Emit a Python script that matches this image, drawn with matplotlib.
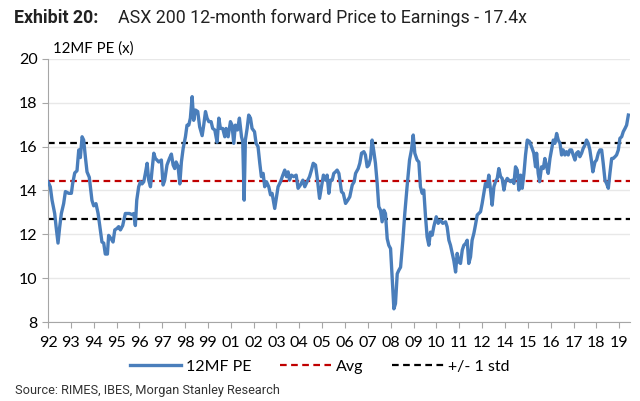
import numpy as np
import matplotlib
matplotlib.use('Agg')
import matplotlib.pyplot as plt
import matplotlib.transforms as mtransforms
from matplotlib.lines import Line2D

# months since Jan-92 and 12MF PE values
months = [
    0.0, 1.3, 2.3, 3.8, 4.6, 5.7, 6.6, 7.6, 8.9, 9.9, 11.8, 13.3, 14.0, 15.2, 16.5, 17.5,
    18.4, 19.4, 20.3, 21.3, 22.2, 23.5, 25.0, 26.0, 27.3, 28.5, 29.8, 30.7, 31.7, 32.6,
    33.8, 34.5, 35.9, 37.0, 38.0, 39.3, 40.2, 41.2, 42.5, 44.0, 45.0, 46.3, 47.8, 48.8,
    49.7, 50.5, 51.6, 52.6, 53.5, 54.5, 55.4, 56.4, 57.3, 58.3, 59.2, 60.2, 61.1, 62.0,
    63.0, 64.5, 65.5, 66.4, 67.7, 69.1, 70.2, 71.2, 72.1, 72.9, 74.0, 75.0, 75.9, 76.9,
    78.2, 79.1, 80.1, 81.0, 82.0, 82.9, 83.9, 85.2, 86.3, 87.7, 88.6, 89.6, 90.5, 91.5,
    92.8, 93.7, 94.9, 96.2, 97.2,
    98.1, 99.4, 100.6, 101.3, 102.5, 103.8, 104.7, 105.7, 106.6, 107.8, 108.9, 110.1,
    110.8, 111.6, 112.3, 113.3, 114.2, 115.2, 116.1, 117.5, 118.4, 119.5, 120.5, 121.4,
    122.4, 123.3, 124.3, 125.6, 126.6, 127.5, 129.0, 130.0, 130.9, 132.3, 133.6, 134.7,
    135.7, 136.6, 137.4, 138.5, 139.8, 141.2, 142.3, 143.6, 145.0, 146.1, 147.4, 148.8,
    149.9, 150.9, 152.2, 153.1, 154.5, 155.6, 156.7, 157.9, 158.8, 159.8, 160.7, 161.7,
    162.6, 163.6, 164.5, 165.5, 167.0, 168.0, 169.3, 170.6, 171.7, 173.1, 174.2, 175.0,
    176.5, 177.4, 178.4, 179.7, 180.6, 181.6, 182.5, 183.5, 184.4, 185.4, 186.3, 187.3,
    188.2, 189.2, 190.1, 191.1, 192.0, 193.0, 193.9, 194.9, 195.8, 196.8, 197.7, 198.7,
    199.6, 200.6,
    201.9, 203.0, 204.3, 205.7, 206.8, 207.8, 208.7, 210.0, 211.0, 211.9, 212.9, 213.8,
    214.8, 215.7, 216.7, 217.6, 218.6, 219.5, 220.9, 222.0, 223.3, 224.6, 226.2, 227.1,
    228.1, 229.0, 230.0, 230.9, 231.9, 232.8, 233.8, 234.7, 235.7, 236.6, 237.6, 238.5,
    239.4, 240.4, 241.3, 242.3, 243.2, 244.2, 245.1, 246.1, 247.0, 248.0, 248.9, 249.9,
    250.8, 251.8, 252.7, 253.7, 254.6, 255.6, 256.5, 257.5, 258.4, 259.4, 260.3, 261.3,
    262.2, 263.2, 264.1, 265.1, 266.0, 267.0, 267.9, 268.9, 269.8, 270.8, 271.7, 272.7,
    274.0, 275.1, 276.4, 277.4, 278.0, 278.9, 279.7, 280.8, 281.8, 282.7, 283.7, 284.6,
    285.6, 286.5, 287.5, 288.4, 289.4, 290.3, 291.3, 292.2, 293.1, 294.1, 295.0, 296.0,
    296.9, 297.9, 298.8, 299.8, 300.7, 301.7, 302.6, 303.6, 304.5, 305.5, 306.4, 307.4,
    308.3, 309.3, 310.0, 311.2, 312.1, 313.1, 314.0, 315.0, 315.9, 316.9, 317.8, 318.8,
    319.7, 320.7, 321.6, 322.6, 323.5, 324.5, 325.4, 326.4, 327.3, 328.3, 329.2, 330.2,
]
pe = [
    14.4, 14.17, 13.56, 12.95, 12.35, 11.6, 12.3, 12.95, 13.4, 13.95, 13.87, 13.87, 14.3, 14.8, 14.9, 15.85,
    15.5, 16.45, 16.3, 15.5, 14.85, 14.6, 13.55, 13.3, 13.4, 12.95, 12.2, 11.65, 11.6, 11.1,
    11.1, 11.95, 11.8, 11.65, 12.2, 12.27, 12.35, 12.2, 12.4, 12.95, 12.95, 12.95, 12.9, 12.95,
    12.4, 13.56, 14.17, 14.4, 14.3, 14.4, 14.78, 15.24, 14.47, 14.17, 14.93, 15.7, 15.46, 15.39,
    15.3, 15.39, 14.25, 14.47, 15.16, 15.46, 15.66, 15.16, 15.0, 15.3, 15.1, 14.3, 15.3, 15.92,
    16.45, 16.98, 16.98, 17.3, 18.28, 17.2, 17.67, 17.6, 16.9, 16.5, 16.98, 17.6, 17.3, 17.14,
    17.14, 16.83, 16.76, 16.2, 17.3,
    16.83, 16.83, 16.45, 16.83, 16.45, 17.14, 16.98, 16.15, 16.98, 16.76, 17.3, 16.45,
    16.23, 13.56, 16.3, 16.83, 17.44, 17.3, 16.83, 16.68, 16.15, 16.0, 15.24, 14.63,
    14.78, 14.17, 14.4, 14.17, 13.8, 13.87, 13.18, 13.71, 14.17, 14.4, 14.7, 14.93,
    14.63, 14.85, 14.47, 14.7, 14.63, 14.7, 14.1, 14.25, 14.47, 14.17, 14.4, 14.63,
    14.93, 15.24, 15.16, 14.63, 13.64, 14.17, 14.7, 14.47, 14.7, 13.87, 14.47, 14.47,
    14.78, 14.85, 14.93, 14.78, 13.94, 13.87, 13.41, 13.56, 13.71, 14.25, 14.4, 14.78,
    15.0, 15.24, 15.7, 15.77, 15.62, 15.08, 15.16, 15.46, 16.3, 15.77, 15.24, 14.32,
    13.26, 13.1, 12.57, 13.1, 12.95, 11.8, 11.5, 11.35, 10.06, 8.6, 8.84, 10.2,
    10.36, 10.5,
    11.73, 12.95, 14.17, 15.39, 15.85, 16.53, 15.7, 15.39, 15.3, 14.17, 13.87, 14.02,
    12.8, 11.89, 11.5, 12.1, 11.96, 12.35, 12.8, 12.5, 12.65, 12.5, 12.57, 12.34,
    11.73, 11.5, 11.13, 10.8, 10.28, 11.13, 10.74, 10.67, 11.28, 11.5, 11.58, 11.73,
    10.67, 10.97, 11.73, 12.04, 12.42, 12.88, 12.95, 13.03, 13.4, 13.87, 14.32, 14.17,
    14.7, 14.02, 13.33, 14.17, 14.4, 14.55, 15.0, 14.63, 14.55, 14.02, 14.4, 14.55,
    14.47, 14.4, 14.47, 14.32, 15.08, 14.93, 14.02, 14.7, 14.1, 14.78, 15.62, 16.3,
    16.23, 16.0, 15.7, 15.08, 15.7, 14.78, 14.4, 15.08, 15.0, 15.46, 15.08, 14.78,
    15.46, 15.85, 16.3, 16.15, 16.6, 16.3, 16.15, 15.62, 15.85, 15.62, 15.77, 15.62,
    15.85, 15.85, 15.62, 15.39, 15.7, 15.77, 15.54, 15.7, 15.92, 16.07, 16.3, 16.15,
    15.85, 15.3, 14.85, 15.3, 15.39, 15.7, 15.85, 15.85, 15.24, 14.47, 14.32, 14.1,
    14.78, 15.46, 15.46, 15.54, 15.62, 15.85, 16.38, 16.45, 16.68, 16.83, 16.98, 17.44,
]

avg = 14.45
std = 1.73

year_labels = ['92', '93', '94', '95', '96', '97', '98', '99', '01', '02', '03', '04', '05',
               '06', '07', '08', '09', '10', '11', '12', '14', '15', '16', '17', '18', '19']

plt.rcParams['font.family'] = ['Lato', 'DejaVu Sans']

fig = plt.figure(figsize=(6.4, 4.01), dpi=100)
ax = fig.add_axes([0.075, 0.197, 0.909, 0.656])

ax.plot(months, pe, color='#4a7ebb', lw=2.4, solid_joinstyle='round', zorder=3)
ax.axhline(avg, color='#c00000', lw=1.6, ls=(0, (3, 2)), zorder=2)
ax.axhline(avg + std, color='black', lw=1.6, ls=(0, (3, 2)), zorder=2)
ax.axhline(avg - std, color='black', lw=1.6, ls=(0, (3, 2)), zorder=2)

ax.set_xlim(0, 331)
ax.set_ylim(8, 20)
ax.set_yticks(np.arange(8, 21, 2))
ax.yaxis.grid(True, color='#e8e8e8', lw=1)
ax.set_axisbelow(True)

ticks = np.arange(len(year_labels)) * 13
ax.set_xticks(ticks)
ax.set_xticklabels(year_labels)
offset = mtransforms.ScaledTranslation(3 / 72, 0, fig.dpi_scale_trans)
for lbl in ax.get_xticklabels():
    lbl.set_transform(lbl.get_transform() + offset)

for s in ['top', 'right']:
    ax.spines[s].set_visible(False)
for s in ['left', 'bottom']:
    ax.spines[s].set_color('#a6a6a6')
ax.tick_params(axis='both', colors='#a6a6a6', labelcolor='black', length=4, labelsize=11.5)
ax.tick_params(axis='x', pad=6)

fig.text(0.022, 0.955, 'Exhibit 20:', fontsize=12.8, fontweight='bold', family='Roboto',
         color='#222222', va='center')
fig.text(0.184, 0.955, 'ASX 200 12-month forward Price to Earnings - 17.4x', fontsize=12.8,
         family='Roboto', color='#222222', va='center')
fig.text(0.083, 0.878, '12MF PE (x)', fontsize=10.8, va='center')

handles = [
    Line2D([], [], color='#4a7ebb', lw=2.4),
    Line2D([], [], color='#c00000', lw=1.6, ls=(0, (3, 2))),
    Line2D([], [], color='black', lw=1.6, ls=(0, (3, 2))),
]
fig.legend(handles, ['12MF PE', 'Avg', '+/- 1 std'], loc='center', bbox_to_anchor=(0.5, 0.085),
           ncol=3, frameon=False, fontsize=11.5, handlelength=3.2, columnspacing=1.8,
           handletextpad=0.3)

fig.text(0.023, 0.027, 'Source: RIMES, IBES, Morgan Stanley Research', fontsize=9.2,
         family='Roboto', color='#333333', va='center')

fig.savefig('out.png', dpi=100)
